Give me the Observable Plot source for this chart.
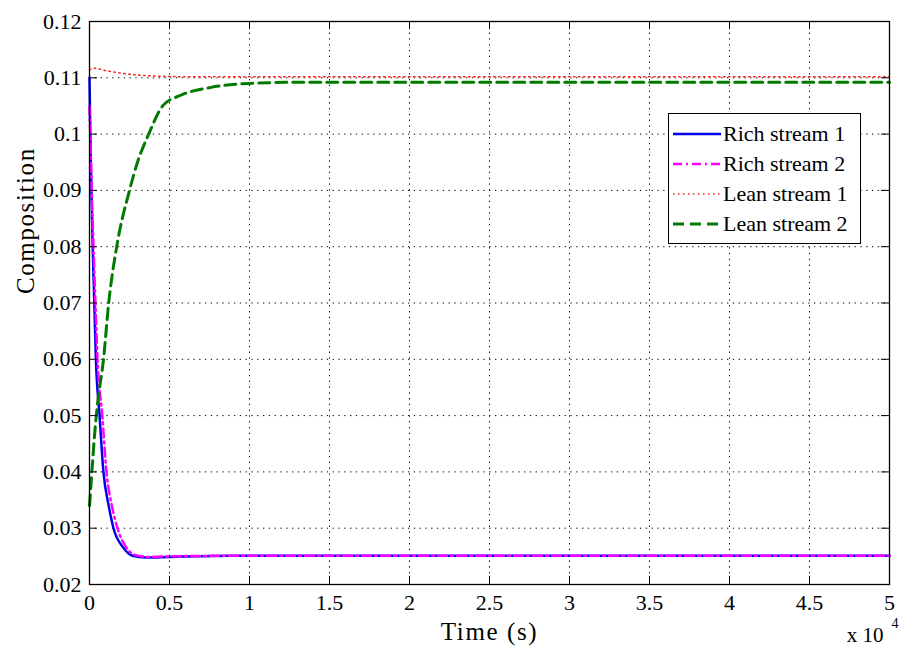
<!DOCTYPE html>
<html><head><meta charset="utf-8">
<script src="https://cdn.jsdelivr.net/npm/d3@7"></script>
<script src="https://cdn.jsdelivr.net/npm/@observablehq/plot@0.6"></script>
<style>
body{margin:0;background:#fff;}
#wrap{position:relative;width:901px;height:654px;font-family:"Liberation Serif",serif;}
#wrap svg text{font-family:"Liberation Serif",serif;}
#legend{position:absolute;left:668px;top:113px;width:193px;height:131px;border:1.2px solid #000;background:#fff;font-family:"Liberation Serif",serif;font-size:22px;color:#000;box-sizing:border-box;}
#legend .row{position:absolute;left:3px;height:30px;display:flex;align-items:center;white-space:nowrap;}
#legend svg{display:block;}
#legend span{margin-left:2px;line-height:30px;}
</style></head><body><div id="wrap"></div>
<script>
const seriesNames = ["Rich stream 1", "Rich stream 2", "Lean stream 1", "Lean stream 2"];
const seriesColors = ["#0000ee", "#ff00ff", "#ff2020", "#007a00"];
const seriesDash = [null, "9,4,2,4", "1.5,3.5", "11,6"];
const seriesWidth = [2.5, 2.5, 1.5, 3];

// time in units of 10^4 s
const timeRich1 = [0, 0.005, 0.012, 0.02, 0.03, 0.04, 0.063, 0.087, 0.12, 0.15, 0.21, 0.27, 0.35, 0.5, 0.9, 1.5, 5];
const rich1     = [0.110, 0.100, 0.090, 0.080, 0.070, 0.060, 0.050, 0.040, 0.034, 0.030, 0.0266, 0.0251, 0.0248, 0.0249, 0.0251, 0.0251, 0.0251];
const timeRich2 = [0, 0.008, 0.016, 0.025, 0.037, 0.05, 0.08, 0.106, 0.14, 0.175, 0.23, 0.29, 0.37, 0.5, 0.9, 1.5, 5];
const rich2     = [0.105, 0.097, 0.088, 0.080, 0.070, 0.060, 0.050, 0.040, 0.034, 0.030, 0.0266, 0.0252, 0.0249, 0.0250, 0.0251, 0.0251, 0.0251];
const timeLean1 = [0, 0.03, 0.1, 0.2, 0.35, 0.6, 1, 5];
const lean1     = [0.1114, 0.1117, 0.1113, 0.1108, 0.1104, 0.1102, 0.1102, 0.1102];
const timeLean2 = [0, 0.01, 0.02, 0.03, 0.05, 0.0875, 0.12, 0.17, 0.25, 0.3, 0.37, 0.46, 0.57, 0.76, 1.0, 1.3, 5];
const lean2     = [0.034, 0.038, 0.042, 0.046, 0.052, 0.060, 0.070, 0.080, 0.090, 0.095, 0.100, 0.1051, 0.1069, 0.1083, 0.1090, 0.1092, 0.1092];

const xTicks = [0, 0.5, 1, 1.5, 2, 2.5, 3, 3.5, 4, 4.5, 5];
const yTicks = [0.02, 0.03, 0.04, 0.05, 0.06, 0.07, 0.08, 0.09, 0.1, 0.11, 0.12];
const xTickLabels = ["0", "0.5", "1", "1.5", "2", "2.5", "3", "3.5", "4", "4.5", "5"];
const yTickLabels = ["0.02", "0.03", "0.04", "0.05", "0.06", "0.07", "0.08", "0.09", "0.1", "0.11", "0.12"];

const allTimes = [timeRich1, timeRich2, timeLean1, timeLean2];
const allVals = [rich1, rich2, lean1, lean2];
const rows = [];
allTimes.forEach((ts, i) => ts.forEach((t, j) => rows.push({series: seriesNames[i], t, v: allVals[i][j]})));

const W = 901, H = 654, mL = 89, mR = 12, mT = 21, mB = 70;
const fw = W - mL - mR, fh = H - mT - mB;
const font = '"Liberation Serif", serif';

const lineMarks = seriesNames.map((name, i) => Plot.line(rows.filter(r => r.series === name), {
  x: "t", y: "v", stroke: seriesColors[i], strokeWidth: seriesWidth[i],
  strokeDasharray: seriesDash[i], curve: "monotone-x"
}));

const chart = Plot.plot({
  width: W, height: H, marginLeft: mL, marginRight: mR, marginTop: mT, marginBottom: mB,
  style: {fontFamily: font, fontSize: "22px", background: "#fff", color: "#000"},
  x: {domain: [0, 5]},
  y: {domain: [0.02, 0.12]},
  marks: [
    Plot.gridX(xTicks, {stroke: "#000", strokeOpacity: 1, strokeDasharray: "1.3,4.5"}),
    Plot.gridY(yTicks, {stroke: "#000", strokeOpacity: 1, strokeDasharray: "1.3,4.5"}),
    ...lineMarks,
    Plot.tickX(xTicks, {x: d => d, insetTop: fh - 8, stroke: "#000"}),
    Plot.tickX(xTicks, {x: d => d, insetBottom: fh - 8, stroke: "#000"}),
    Plot.tickY(yTicks, {y: d => d, insetRight: fw - 8, stroke: "#000"}),
    Plot.tickY(yTicks, {y: d => d, insetLeft: fw - 8, stroke: "#000"}),
    Plot.frame({stroke: "#000", strokeWidth: 1.3}),
    Plot.axisX(xTicks, {tickSize: 0, tickPadding: 10, tickFormat: (d, i) => xTickLabels[i], label: null, fontSize: 22, fontFamily: font}),
    Plot.axisY(yTicks, {tickSize: 0, tickPadding: 8, tickFormat: (d, i) => yTickLabels[i], label: null, fontSize: 22, fontFamily: font}),
    Plot.text(["Time (s)"], {frameAnchor: "bottom", dy: 38, fontSize: 25, lineAnchor: "top", fontFamily: font}),
    Plot.text(["Composition"], {frameAnchor: "left", rotate: -90, dx: -64, dy: -9, fontSize: 25, fontFamily: font}),
    Plot.text(["x 10"], {frameAnchor: "bottom-right", dx: -6, dy: 51, fontSize: 21, textAnchor: "end", lineAnchor: "middle", fontFamily: font}),
    Plot.text(["4"], {frameAnchor: "bottom-right", dx: 2, dy: 39, fontSize: 14, textAnchor: "start", lineAnchor: "middle", fontFamily: font})
  ]
});
chart.querySelectorAll("text").forEach(t => {
  if (t.textContent === "Time (s)" || t.textContent === "Composition") t.setAttribute("letter-spacing", "1.6");
});
const wrap = document.getElementById("wrap");
wrap.appendChild(chart);

const legend = document.createElement("div");
legend.id = "legend";
seriesNames.forEach((name, i) => {
  const row = document.createElement("div");
  row.className = "row";
  row.style.top = (5 + i * 30) + "px";
  const dash = seriesDash[i] ? `stroke-dasharray="${seriesDash[i]}"` : "";
  row.innerHTML = `<svg width="49" height="10"><line x1="1" y1="5" x2="49" y2="5" stroke="${seriesColors[i]}" stroke-width="${seriesWidth[i]}" ${dash}/></svg><span>${name}</span>`;
  legend.appendChild(row);
});
wrap.appendChild(legend);
</script>
</body></html>
